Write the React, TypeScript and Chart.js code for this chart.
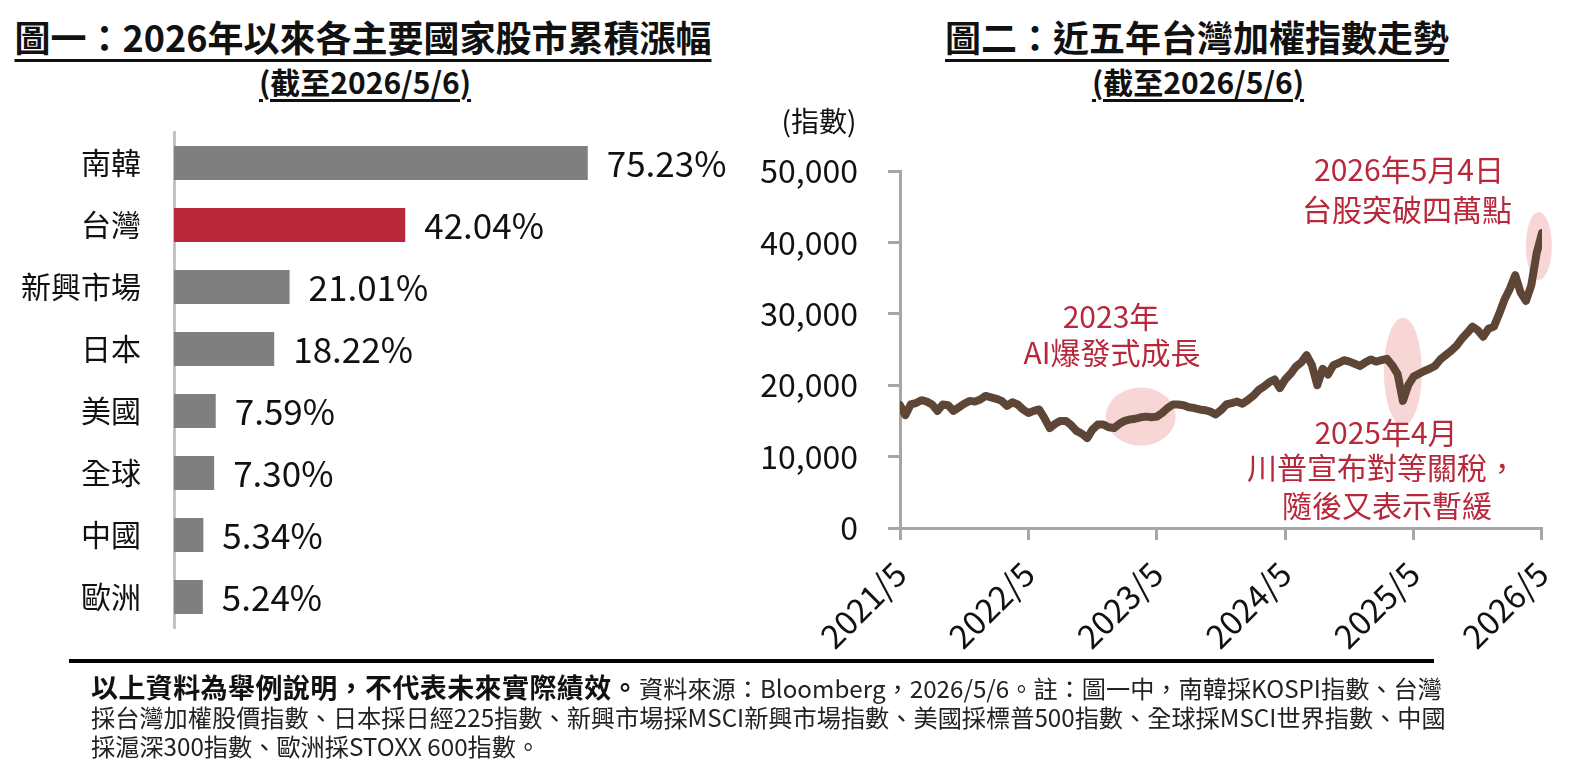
import { useEffect, useRef } from "react";
import { Chart, registerables } from "chart.js";

Chart.register(...registerables);

const FONT = '"Noto Sans CJK TC", "Noto Sans", sans-serif';

// 圖一：2026年以來各主要國家股市累積漲幅 (%)
const countries = ["南韓", "台灣", "新興市場", "日本", "美國", "全球", "中國", "歐洲"];
const cumulativeReturns = [75.23, 42.04, 21.01, 18.22, 7.59, 7.3, 5.34, 5.24];
const highlightCountry = "台灣";

// 圖二：台灣加權指數, one reading every half month from 2021/5 to 2026/5
const yearLabels = ["2021/5", "2022/5", "2023/5", "2024/5", "2025/5", "2026/5"];
const taiexHalfMonthly = [
  17200, 15800, 17300, 17500, 17900, 17700, 17300, 16400, 17300, 17200,
  16400, 16900, 17400, 17800, 17700, 18000, 18500, 18300, 18100, 17800,
  17100, 17600, 17300, 16600, 16100, 16400, 16600, 15400, 14000, 14600,
  15000, 15000, 14400, 13600, 13200, 12600, 13800, 14500, 14500, 14100,
  14000, 14600, 15000, 15200, 15300, 15500, 15600, 15500, 15600, 16100,
  16800, 17300, 17300, 17200, 16900, 16800, 16600, 16500, 16300, 15900,
  16500, 17300, 17500, 17700, 17400, 17900, 18500, 19300, 19800, 20400,
  20800, 19600, 20800, 21600, 22600, 23200, 24200, 22800, 20000, 22300,
  21500, 22800, 23100, 23500, 23300, 23000, 22700, 23200, 23600, 23300,
  23500, 23700, 22800, 21600, 17800, 20000, 21200, 21600, 22000, 22300,
  22700, 23600, 24200, 24800, 25500, 26500, 27300, 28200, 27700, 26800,
  27900, 28200, 30000, 32000, 33500, 35400, 33000, 31800, 34000, 38500,
  41300,
];
const pointsPerYear = 24;
const yAxisMax = 50000;
const yAxisStep = 10000;

// pink highlight spots: position (half-month index) and index level
const highlightAt = [45, 94, 119.4];
const highlightLevel = [15600, 21900, 39500];

const RED = "#b8283a";
const GRAY_BAR = "#7f7f7f";
const AXIS_GRAY = "#a6a6a6";

const barLabelPlugin = {
  id: "barLabels",
  afterDatasetsDraw(chart: any) {
    const { ctx } = chart;
    const meta = chart.getDatasetMeta(0);
    ctx.save();
    ctx.font = `35px ${FONT}`;
    ctx.fillStyle = "#111";
    ctx.textBaseline = "middle";
    meta.data.forEach((bar: any, i: number) => {
      ctx.fillText(cumulativeReturns[i].toFixed(2) + "%", bar.x + 19, bar.y + 1);
    });
    ctx.restore();
  },
};

const ellipseSizes = [
  [35, 29],
  [19, 54],
  [13, 34],
];

const ellipsePlugin = {
  id: "highlightEllipses",
  beforeDatasetsDraw(chart: any) {
    const { ctx } = chart;
    const { x, y } = chart.scales;
    ctx.save();
    ctx.fillStyle = "#f9d6d6";
    highlightAt.forEach((pos, i) => {
      const [rx, ry] = ellipseSizes[i];
      ctx.beginPath();
      ctx.ellipse(x.getPixelForValue(pos), y.getPixelForValue(highlightLevel[i]), rx, ry, 0, 0, Math.PI * 2);
      ctx.fill();
    });
    ctx.restore();
  },
};

function ReturnsBarChart() {
  const canvasRef = useRef<HTMLCanvasElement>(null);
  const chartRef = useRef<Chart | null>(null);

  useEffect(() => {
    if (!canvasRef.current) return;
    chartRef.current?.destroy();

    chartRef.current = new Chart(canvasRef.current, {
      type: "bar",
      data: {
        labels: countries,
        datasets: [
          {
            data: cumulativeReturns,
            backgroundColor: countries.map((c) => (c === highlightCountry ? RED : GRAY_BAR)),
            barPercentage: 0.55,
            categoryPercentage: 1,
          },
        ],
      },
      options: {
        indexAxis: "y",
        responsive: false,
        animation: false,
        layout: { padding: { top: 132, right: 36, bottom: 12, left: 0 } },
        plugins: { legend: { display: false }, tooltip: { enabled: false } },
        scales: {
          x: {
            display: false,
            min: 0,
            max: 100,
            afterFit: (scale: any) => {
              scale.height = 0;
            },
          },
          y: {
            afterFit: (scale: any) => {
              scale.width = 174;
              scale.paddingTop = 0;
              scale.paddingBottom = 0;
            },
            grid: { display: false, drawTicks: false },
            border: { display: true, color: "#c4c4c4", width: 3 },
            ticks: { color: "#111", padding: 33, font: { family: FONT, size: 30 } },
          },
        },
      },
      plugins: [barLabelPlugin],
    });

    return () => {
      chartRef.current?.destroy();
      chartRef.current = null;
    };
  }, []);

  return (
    <div style={{ position: "absolute", left: 0, top: 0, width: 760, height: 640 }}>
      <canvas ref={canvasRef} width={760} height={640}></canvas>
    </div>
  );
}

function TaiexLineChart() {
  const canvasRef = useRef<HTMLCanvasElement>(null);
  const chartRef = useRef<Chart | null>(null);

  useEffect(() => {
    if (!canvasRef.current) return;
    chartRef.current?.destroy();

    chartRef.current = new Chart(canvasRef.current, {
      type: "line",
      data: {
        datasets: [
          {
            data: taiexHalfMonthly.map((v, i) => ({ x: i, y: v })),
            borderColor: "#5e4636",
            borderWidth: 8,
            pointRadius: 0,
            tension: 0,
            borderJoinStyle: "round",
            borderCapStyle: "round",
          },
        ],
      },
      options: {
        responsive: false,
        animation: false,
        layout: { padding: { top: 71, right: 38, bottom: 0, left: 0 } },
        plugins: { legend: { display: false }, tooltip: { enabled: false } },
        scales: {
          x: {
            type: "linear",
            min: 0,
            max: (yearLabels.length - 1) * pointsPerYear,
            afterFit: (scale: any) => {
              scale.height = 132;
            },
            grid: {
              display: true,
              drawOnChartArea: false,
              drawTicks: true,
              tickLength: 12,
              tickColor: AXIS_GRAY,
              tickWidth: 3,
              lineWidth: 3,
            },
            border: { display: true, color: AXIS_GRAY, width: 3 },
            ticks: {
              stepSize: pointsPerYear,
              autoSkip: false,
              maxRotation: 45,
              minRotation: 45,
              padding: 14,
              color: "#111",
              font: { family: FONT, size: 33 },
              callback: (v: any) => yearLabels[Math.round(Number(v) / pointsPerYear)] ?? "",
            },
          },
          y: {
            min: 0,
            max: yAxisMax,
            afterFit: (scale: any) => {
              scale.width = 140;
            },
            grid: {
              display: true,
              drawOnChartArea: false,
              drawTicks: true,
              tickLength: 12,
              tickColor: AXIS_GRAY,
              tickWidth: 3,
              lineWidth: 3,
            },
            border: { display: true, color: AXIS_GRAY, width: 3 },
            ticks: {
              stepSize: yAxisStep,
              padding: 30,
              color: "#111",
              font: { family: FONT, size: 32 },
              callback: (v: any) => Number(v).toLocaleString("en-US"),
            },
          },
        },
      },
      plugins: [ellipsePlugin],
    });

    return () => {
      chartRef.current?.destroy();
      chartRef.current = null;
    };
  }, []);

  return (
    <div style={{ position: "absolute", left: 760, top: 100, width: 824, height: 560 }}>
      <canvas ref={canvasRef} width={824} height={560}></canvas>
    </div>
  );
}

const centered = (x: number, y: number): React.CSSProperties => ({
  position: "absolute",
  left: x,
  top: y,
  transform: "translate(-50%, -50%)",
  whiteSpace: "nowrap",
});

const titleStyle: React.CSSProperties = {
  fontWeight: 700,
  fontSize: 36,
  color: "#111",
  textDecoration: "underline",
  textDecorationThickness: "3px",
  textUnderlineOffset: "7px",
};

const subTitleStyle: React.CSSProperties = {
  fontWeight: 700,
  fontSize: 30,
  color: "#111",
  textDecoration: "underline",
  textDecorationThickness: "3px",
  textUnderlineOffset: "5px",
};

const noteStyle: React.CSSProperties = { color: RED, fontSize: 30, lineHeight: 1 };

export default function App() {
  return (
    <div
      style={{
        position: "fixed",
        left: 0,
        top: 0,
        width: 1584,
        height: 766,
        background: "#fff",
        fontFamily: FONT,
        overflow: "hidden",
      }}
    >
      <div style={{ ...centered(363, 36), ...titleStyle }}>圖一：2026年以來各主要國家股市累積漲幅</div>
      <div style={{ ...centered(365, 81), ...subTitleStyle }}>(截至2026/5/6)</div>
      <div style={{ ...centered(1197, 36), ...titleStyle }}>圖二：近五年台灣加權指數走勢</div>
      <div style={{ ...centered(1198, 81), ...subTitleStyle }}>(截至2026/5/6)</div>

      <ReturnsBarChart />
      <TaiexLineChart />

      <div style={{ ...centered(819, 120), fontSize: 28, color: "#111" }}>(指數)</div>

      <div style={{ ...centered(1111, 315), ...noteStyle }}>2023年</div>
      <div style={{ ...centered(1112, 351), ...noteStyle }}>AI爆發式成長</div>
      <div style={{ ...centered(1409, 168), ...noteStyle }}>2026年5月4日</div>
      <div style={{ ...centered(1407, 208), ...noteStyle }}>台股突破四萬點</div>
      <div style={{ ...centered(1386, 431), ...noteStyle }}>2025年4月</div>
      <div style={{ ...centered(1382, 466), ...noteStyle }}>川普宣布對等關稅，</div>
      <div style={{ ...centered(1387, 504), ...noteStyle }}>隨後又表示暫緩</div>

      <div style={{ position: "absolute", left: 69, top: 659, width: 1365, height: 4, background: "#000" }} />
      <div
        style={{
          position: "absolute",
          left: 91,
          top: 672,
          width: 1450,
          fontSize: 24.2,
          lineHeight: "29px",
          color: "#222",
          whiteSpace: "nowrap",
        }}
      >
        <span style={{ fontWeight: 700, fontSize: 27, letterSpacing: "0.4px", color: "#111" }}>
          以上資料為舉例說明，不代表未來實際績效。
        </span>
        資料來源：Bloomberg，2026/5/6。註：圖一中，南韓採KOSPI指數、台灣
        <br />
        採台灣加權股價指數、日本採日經225指數、新興市場採MSCI新興市場指數、美國採標普500指數、全球採MSCI世界指數、中國
        <br />
        採滬深300指數、歐洲採STOXX 600指數。
      </div>
    </div>
  );
}
